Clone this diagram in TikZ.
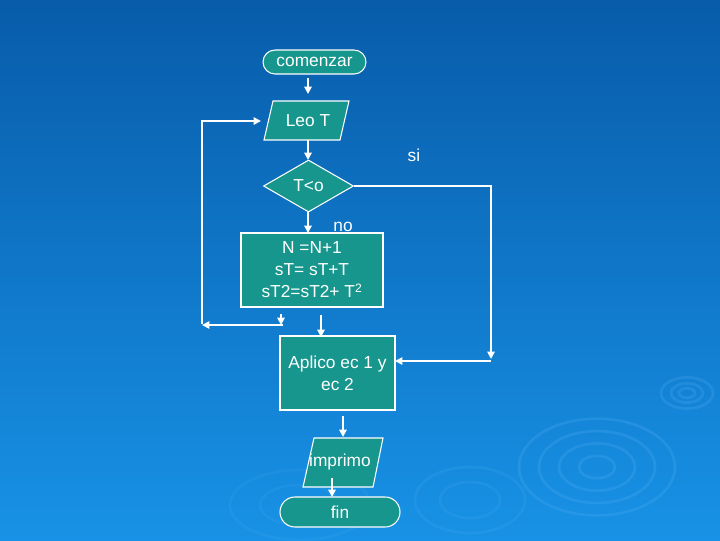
\documentclass[tikz,border=0pt]{standalone}
\usepackage{fontspec}
\setmainfont{Liberation Sans}
\usetikzlibrary{shapes.geometric,shapes.misc,arrows.meta}
\definecolor{bgtop}{RGB}{8,92,170}
\definecolor{bgbot}{RGB}{24,146,230}
\definecolor{boxfill}{RGB}{22,150,140}
\definecolor{ripple}{RGB}{90,180,245}
\begin{document}
\begin{tikzpicture}[x=0.75pt,y=-0.75pt,
  shp/.style={draw=white, fill=boxfill, line width=0.8pt},
  txt/.style={text=white, font=\fontsize{13}{16.5}\selectfont, align=center, inner sep=0pt},
  proc/.style={shp, txt, rectangle},
  term/.style={shp, txt, rounded rectangle},
  arr/.style={draw=white, line width=1.3pt, -{Triangle[length=5.5pt,width=5.5pt]}},
  rip/.style={draw=ripple, opacity=0.22, line width=2pt}]
\useasboundingbox (0,0) rectangle (720,540);
\shade[top color=bgtop, bottom color=bgbot] (0,0) rectangle (720,540);
% decorative ripples
\foreach \r in {18,38,58,78} {\draw[rip] (597,467) ellipse ({\r} and {\r*0.62});}
\foreach \r in {8,16,26} {\draw[rip] (687,393) ellipse ({\r} and {\r*0.6});}
\foreach \r in {30,55} {\draw[rip, opacity=0.15] (470,500) ellipse ({\r} and {\r*0.6});}
\foreach \r in {40,70} {\draw[rip, opacity=0.12] (300,505) ellipse ({\r} and {\r*0.5});}

% nodes
\node[term, minimum width=77.25pt, minimum height=18pt] (start) at (314.5,62) {comenzar};
\draw[shp] (273,101) -- (349,101) -- (340,140) -- (264,140) -- cycle;
\node[txt] (leo) at (308,121) {Leo T};
\node[shp, txt, diamond, minimum width=67.5pt, minimum height=39pt] (dec) at (308.5,186) {T<o};
\node[proc, minimum width=106.5pt, minimum height=55.5pt] (acc) at (312,270)
  {N =N+1\\sT= sT+T\\sT2=sT2+ T\textsuperscript{2}};
\node[proc, minimum width=86.25pt, minimum height=55.5pt] (apl) at (337.5,373) {Aplico ec 1 y\\ec 2};
\draw[shp] (314,438) -- (383,438) -- (373,487) -- (303,487) -- cycle;
\node[txt] (imp) at (340,462) {imprimo};
\node[term, minimum width=90pt, minimum height=22.5pt] (fin) at (340,512) {fin};

\node[txt] (si) at (414,155) {si};
\node[txt] (no) at (343,227) {no};

% connector end points
\coordinate (a1) at (308,78);  \coordinate (a2) at (308,94);
\coordinate (b1) at (308,140); \coordinate (b2) at (308,160);
\coordinate (c1) at (308,212); \coordinate (c2) at (308,233);
\coordinate (d1) at (491,186); \coordinate (d2) at (491,359);
\coordinate (d3) at (491,361); \coordinate (d4) at (395,361);
\coordinate (e1) at (281,314); \coordinate (e2) at (281,325);
\coordinate (f1) at (283,325); \coordinate (f2) at (202,325);
\coordinate (g1) at (202,121); \coordinate (g2) at (261,121);
\coordinate (h1) at (321,315); \coordinate (h2) at (321,337);
\coordinate (i1) at (343,416); \coordinate (i2) at (343,437);
\coordinate (j1) at (332,478); \coordinate (j2) at (332,497);

% connectors
\draw[arr] (a1) -- (a2);
\draw[arr] (b1) -- (b2);
\draw[arr] (c1) -- (c2);
\draw[arr] (dec.east) -- (d1) -- (d2);
\draw[arr] (d3) -- (d4);
\draw[arr] (e1) -- (e2);
\draw[arr] (f1) -- (f2);
\draw[arr] ([yshift=0.5pt]f2) -- (g1) -- (g2);
\draw[arr] (h1) -- (h2);
\draw[arr] (i1) -- (i2);
\draw[arr] (j1) -- (j2);
\end{tikzpicture}
\end{document}
